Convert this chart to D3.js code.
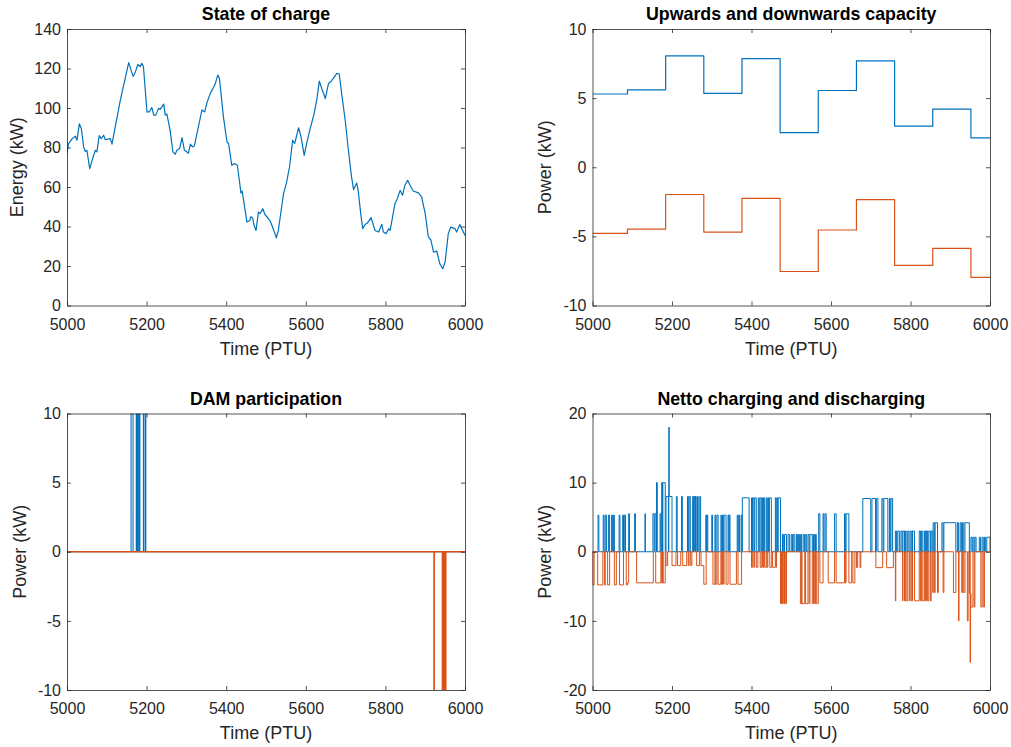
<!DOCTYPE html>
<html>
<head>
<meta charset="utf-8">
<script src="https://cdn.jsdelivr.net/npm/d3@7"></script>
<style>
  html, body { margin: 0; padding: 0; background: #fff; }
  svg { display: block; font-family: "Liberation Sans", Arial, Helvetica, sans-serif; }
</style>
</head>
<body>
<svg id="chart" width="1011" height="747"></svg>
<script>
// ---------------- DATA ----------------
const xDomain = [5000, 6000];
const xTicks = [5000, 5200, 5400, 5600, 5800, 6000];

// State of charge: [PTU, energy]
const socPoints = [
  [5000,77],[5004,82],[5013,84.5],[5021,85.7],[5025,83.7],[5031,92],[5036,89.6],[5042,80],[5046,78],[5050,78.6],
  [5057,69.3],[5063,73.5],[5071,78.6],[5075,77.8],[5081,86],[5086,84.5],[5092,86.2],[5096,84],[5109,84.5],[5113,81.7],
  [5134,104],[5155,123],[5166,116],[5172,118.4],[5178,122],[5184,121],[5188,122.6],[5192,121],[5201,98],[5207,98],
  [5213,100.3],[5218,96.4],[5223,96.4],[5230,99.8],[5234,99.3],[5243,102],[5247,96.4],[5251,96.9],[5259,88.8],[5266,77.8],
  [5272,76.6],[5276,78.6],[5283,79.5],[5289,85],[5295,78.6],[5301,77.8],[5305,77],[5310,81.7],[5315,80.3],[5320,80.8],
  [5331,91.3],[5339,99],[5346,98],[5351,102.3],[5360,107.4],[5368,110.4],[5372,112],[5379,116.7],[5383,115],[5393,95.5],
  [5402,82.8],[5406,82],[5414,71],[5421,71.9],[5428,71],[5433,63.4],[5437,57],[5440,58],[5452,42.3],[5459,43],
  [5462,45],[5467,44],[5470,40.6],[5475,38],[5481,47.3],[5485,46.5],[5492,49],[5497,46.2],[5510,43],[5519,38.4],
  [5526,34.3],[5531,38],[5544,56.6],[5551,61.7],[5559,70],[5567,83.7],[5572,82],[5582,90],[5588,85.4],[5596,76],
  [5603,82.9],[5611,89.6],[5620,96.4],[5628,104.8],[5634,113.6],[5640,109.9],[5649,104.8],[5657,112.4],[5663,113.3],[5669,115],
  [5678,117.5],[5684,117.2],[5690,107.4],[5699,93.8],[5707,78.6],[5715,65],[5720,58.7],[5728,62],[5732,57.5],[5738,46.5],
  [5743,38.9],[5749,41],[5755,41.8],[5764,44.5],[5774,38],[5783,37.2],[5791,41.1],[5795,37.2],[5802,36.4],[5808,38.9],
  [5812,38],[5824,51.6],[5830,54.1],[5837,58.3],[5843,55.8],[5849,60.9],[5856,63.4],[5862,60.9],[5870,58],[5883,57],
  [5891,55],[5900,46.5],[5908,34.7],[5914,33.3],[5921,27],[5929,27.6],[5937,21],[5944,18.6],[5950,22],[5958,36.4],
  [5964,39.7],[5975,38.9],[5979,37.2],[5987,41],[6000,35.5]
];
const socTicks = [0, 20, 40, 60, 80, 100, 120, 140];

// Upwards / downwards capacity (step per day of 96 PTU)
const capBounds = [5000, 5088, 5184, 5280, 5376, 5472, 5568, 5664, 5760, 5856, 5952, 6000];
const capUp   = [5.3, 5.6, 8.05, 5.35, 7.85, 2.5, 5.55, 7.7, 2.97, 4.2, 2.13];
const capDown = [-4.78, -4.47, -1.97, -4.69, -2.25, -7.54, -4.54, -2.34, -7.1, -5.87, -7.97];
const capTicks = [-10, -5, 0, 5, 10];

// DAM participation: [start PTU, end PTU, power]
const damBuy = [[5161,5166,10],[5174,5176,10],[5177,5180,10],[5181,5183,10],[5192,5193,10],[5197,5198,10]];
const damSell = [[5922,5923,-10],[5943,5945,-10],[5946,5948,-10],[5949,5952,-10]];
const damTicks = [-10, -5, 0, 5, 10];

// Netto charging / discharging: [start PTU, end PTU, power]
const nettoCharge = [
  [5014,5016,5.3],[5027,5029,5.3],[5032,5035,5.3],[5040,5043,5.3],[5048,5050,5.3],[5053,5055,5.3],[5067,5069,5.3],
  [5076,5078,5.3],[5080,5083,5.3],[5091,5093,5.5],[5106,5108,5.5],[5132,5133,5.5],[5152,5155,5.5],[5157,5160,5.5],
  [5161,5163,10],[5170,5172,5.5],[5174,5176,10],[5177,5183,10],[5185,5191,8],[5192,5193,18],[5193,5200,8],
  [5211,5213,8],[5224,5226,8],[5239,5241,8],[5243,5246,8],[5252,5254,8],[5256,5258,8],[5259,5261,8],[5264,5266,8],
  [5270,5272,8],[5285,5287,5.3],[5288,5290,5.3],[5300,5302,5.3],[5308,5310,5.3],[5313,5316,5.3],[5323,5325,5.3],
  [5327,5329,5.3],[5331,5336,5.3],[5341,5343,5.3],[5344,5346,5.3],[5364,5366,5.3],[5368,5370,5.3],[5374,5376,5.3],
  [5377,5394,7.8],[5400,5402,7.8],[5403,5406,7.8],[5408,5412,7.8],[5417,5419,7.8],[5421,5424,7.8],[5426,5428,7.8],
  [5430,5433,7.8],[5437,5439,7.8],[5441,5443,7.8],[5445,5450,7.8],[5460,5462,7.8],[5464,5466,7.8],[5467,5473,7.8],
  [5478,5481,2.5],[5483,5488,2.5],[5492,5496,2.5],[5500,5503,2.5],[5505,5509,2.5],[5513,5516,2.5],[5518,5521,2.5],
  [5523,5526,2.5],[5530,5533,2.5],[5535,5538,2.5],[5542,5545,2.5],[5547,5553,2.5],[5556,5559,2.5],[5561,5563,2.5],
  [5569,5572,5.5],[5580,5582,5.5],[5585,5588,5.5],[5609,5613,5.5],[5634,5636,5.5],[5638,5645,5.5],
  [5680,5700,7.7],[5703,5712,7.7],[5714,5718,7.7],[5728,5731,7.7],[5733,5743,7.7],[5747,5749,7.7],[5751,5755,7.7],
  [5762,5765,3.0],[5768,5772,3.0],[5776,5779,3.0],[5781,5785,3.0],[5787,5789,3.0],[5793,5796,3.0],[5799,5802,3.0],
  [5805,5810,3.0],[5822,5825,3.0],[5828,5831,3.0],[5835,5838,3.0],[5840,5843,3.0],[5846,5850,3.0],[5852,5856,3.0],
  [5857,5860,4.2],[5862,5868,4.2],[5879,5882,4.2],[5884,5914,4.2],[5918,5921,4.2],[5925,5928,4.2],[5931,5934,4.2],
  [5937,5948,4.2],[5952,5955,2.1],[5957,5960,2.1],[5962,5965,2.1],[5973,5976,2.1],[5980,5983,2.1],[5986,5989,2.1],
  [5992,6000,2.1]
];
const nettoDischarge = [
  [5000,5004,-4.8],[5013,5026,-4.8],[5030,5032,-4.8],[5038,5043,-4.8],[5055,5060,-4.8],[5068,5078,-4.8],[5085,5088,-4.8],
  [5088,5091,-4.5],[5111,5153,-4.5],[5159,5172,-4.5],[5174,5176,-4.5],[5178,5183,-4.5],[5185,5189,-2],[5200,5210,-2],
  [5214,5222,-2],[5227,5237,-2],[5241,5243,-2],[5247,5250,-2],[5262,5269,-2],[5273,5280,-2],[5280,5286,-4.7],
  [5303,5308,-4.7],[5310,5313,-4.7],[5316,5323,-4.7],[5325,5327,-4.7],[5329,5331,-4.7],[5336,5341,-4.7],[5346,5362,-4.7],
  [5366,5375,-4.7],[5400,5403,-2.25],[5406,5408,-2.25],[5412,5416,-2.25],[5422,5426,-2.25],[5428,5430,-2.25],
  [5433,5437,-2.25],[5439,5441,-2.25],[5446,5451,-2.25],[5453,5460,-2.25],[5462,5463,-2.25],[5473,5475,-7.5],
  [5476,5478,-7.5],[5481,5483,-7.5],[5486,5488,-7.5],[5523,5526,-7.5],[5527,5534,-7.5],[5536,5542,-7.5],[5545,5547,-7.5],
  [5553,5556,-7.5],[5559,5561,-7.5],[5564,5568,-7.5],[5572,5580,-4.5],[5593,5609,-4.5],[5613,5634,-4.5],[5636,5638,-4.5],
  [5645,5652,-4.5],[5655,5660,-4.5],[5664,5667,-2.3],[5673,5675,-2.3],[5713,5730,-2.3],[5740,5757,-2.3],[5762,5763,-7.1],
  [5780,5781,-7.1],[5785,5787,-7.1],[5789,5793,-7.1],[5797,5799,-7.1],[5802,5805,-7.1],[5810,5822,-7.1],[5825,5828,-7.1],
  [5831,5835,-7.1],[5838,5840,-7.1],[5843,5846,-7.1],[5850,5852,-7.1],[5856,5857,-5.9],[5860,5862,-5.9],[5868,5870,-5.9],
  [5882,5884,-5.9],[5908,5914,-5.9],[5921,5922,-10],[5929,5931,-5.9],[5934,5937,-5.9],[5943,5945,-10],[5948,5949,-6],
  [5950,5951,-16],[5951,5952,-6],[5952,5957,-8],[5960,5962,-8],[5977,5980,-8],[5983,5986,-8]
];
const nettoTicks = [-20, -10, 0, 10, 20];

// ---------------- DRAWING ----------------
const BLUE = "#0072BD", ORANGE = "#D95319", AX = "#262626";
const svg = d3.select("#chart");
const fmtNum = d => String(d);

function pulsePoints(intervals) {
  const pts = [[xDomain[0], 0]];
  let prevEnd = xDomain[0];
  intervals.forEach(([s, e, v], i) => {
    if (i === 0 || s !== prevEnd) { pts.push([prevEnd, 0]); pts.push([s, 0]); }
    pts.push([s, v]); pts.push([e, v]);
    prevEnd = e;
  });
  pts.push([prevEnd, 0]); pts.push([xDomain[1], 0]);
  return pts;
}
function stepPoints(bounds, vals) {
  const pts = vals.map((v, i) => [bounds[i], v]);
  pts.push([bounds[bounds.length - 1], vals[vals.length - 1]]);
  return pts;
}

function panel(id, box, yDomain, yTicks, title, ylabel, ylabelX, series) {
  const x = d3.scaleLinear().domain(xDomain).range([box.x0, box.x1]);
  const y = d3.scaleLinear().domain(yDomain).range([box.y1, box.y0]);
  const g = svg.append("g");

  svg.append("clipPath").attr("id", "clip" + id)
    .append("rect").attr("x", box.x0).attr("y", box.y0)
    .attr("width", box.x1 - box.x0).attr("height", box.y1 - box.y0);

  const lines = g.append("g").attr("clip-path", `url(#clip${id})`);
  series.forEach(s => {
    const line = d3.line().x(d => x(d[0])).y(d => y(d[1])).curve(s.curve || d3.curveLinear);
    lines.append("path")
      .attr("d", line(s.points))
      .attr("fill", "none").attr("stroke", s.color).attr("stroke-width", s.width || 1.1)
      .attr("stroke-linejoin", "round");
  });

  const T = 4;
  const fmtAxis = sel => {
    sel.selectAll("path.domain").attr("stroke", AX).attr("stroke-width", 0.8);
    sel.selectAll(".tick line").attr("stroke", AX).attr("stroke-width", 0.8);
    sel.selectAll(".tick text").attr("fill", AX).attr("font-size", "16px")
      .attr("font-family", '"Liberation Sans", Arial, sans-serif');
  };
  g.append("g").attr("transform", `translate(0,${box.y1})`)
    .call(d3.axisBottom(x).tickValues(xTicks).tickFormat(fmtNum).tickSizeInner(-T).tickSizeOuter(0).tickPadding(13))
    .call(fmtAxis);
  g.append("g").attr("transform", `translate(0,${box.y0})`)
    .call(d3.axisTop(x).tickValues(xTicks).tickFormat("").tickSizeInner(-T).tickSizeOuter(0))
    .call(fmtAxis);
  g.append("g").attr("transform", `translate(${box.x0},0)`)
    .call(d3.axisLeft(y).tickValues(yTicks).tickFormat(fmtNum).tickSizeInner(-T).tickSizeOuter(0).tickPadding(6))
    .call(fmtAxis);
  g.append("g").attr("transform", `translate(${box.x1},0)`)
    .call(d3.axisRight(y).tickValues(yTicks).tickFormat("").tickSizeInner(-T).tickSizeOuter(0))
    .call(fmtAxis);

  const cx = (box.x0 + box.x1) / 2, cy = (box.y0 + box.y1) / 2;
  g.append("text").attr("x", cx).attr("y", box.y0 - 9).attr("text-anchor", "middle")
    .attr("font-size", "17.8px").attr("font-weight", "bold").attr("fill", "#000").text(title);
  g.append("text").attr("x", cx).attr("y", box.y1 + 49).attr("text-anchor", "middle")
    .attr("font-size", "18px").attr("fill", AX).text("Time (PTU)");
  g.append("text").attr("transform", `translate(${ylabelX},${cy}) rotate(-90)`).attr("text-anchor", "middle")
    .attr("font-size", "18px").attr("fill", AX).text(ylabel);
}

panel("a", {x0: 67, x1: 465, y0: 29, y1: 305.5}, [0, 140], socTicks,
  "State of charge", "Energy (kW)", 22.5,
  [{points: socPoints, color: BLUE, width: 1.2}]);

panel("b", {x0: 592.5, x1: 990, y0: 29, y1: 305.5}, [-10, 10], capTicks,
  "Upwards and downwards capacity", "Power (kW)", 550.5,
  [{points: stepPoints(capBounds, capUp), color: BLUE, width: 1.2, curve: d3.curveStepAfter},
   {points: stepPoints(capBounds, capDown), color: ORANGE, width: 1.2, curve: d3.curveStepAfter}]);

panel("c", {x0: 67, x1: 465, y0: 413.5, y1: 690}, [-10, 10], damTicks,
  "DAM participation", "Power (kW)", 26,
  [{points: pulsePoints(damBuy), color: BLUE, width: 1.1},
   {points: pulsePoints(damSell), color: ORANGE, width: 1.3}]);

panel("d", {x0: 592.5, x1: 990, y0: 413.5, y1: 690}, [-20, 20], nettoTicks,
  "Netto charging and discharging", "Power (kW)", 550.5,
  [{points: pulsePoints(nettoCharge), color: BLUE, width: 1},
   {points: pulsePoints(nettoDischarge), color: ORANGE, width: 1}]);
</script>
</body>
</html>
